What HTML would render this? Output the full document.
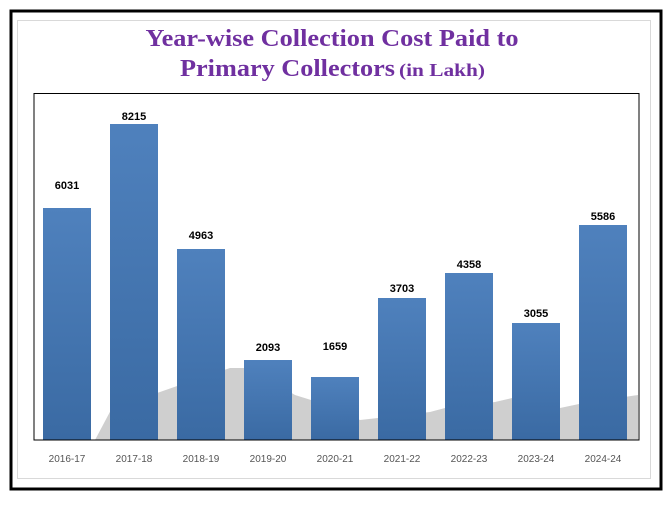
<!DOCTYPE html>
<html><head><meta charset="utf-8"><style>body{margin:0;background:#fff}</style></head><body>
<svg width="669" height="502" xmlns="http://www.w3.org/2000/svg" font-family="Liberation Sans, sans-serif">
<defs><linearGradient id="g" x1="0" y1="0" x2="0" y2="1"><stop offset="0" stop-color="#4f81bd"/><stop offset="1" stop-color="#3a6aa3"/></linearGradient></defs>
<rect x="11" y="11" width="650" height="478" fill="#fff" stroke="#000" stroke-width="3"/>
<rect x="17.5" y="20.5" width="633" height="458" fill="none" stroke="#d9d9d9" stroke-width="1"/>
<text x="332" y="46" text-anchor="middle" font-family="Liberation Serif, serif" font-weight="bold" font-size="24" fill="#7030a0" textLength="373" lengthAdjust="spacingAndGlyphs">Year-wise  Collection Cost Paid to</text>
<text x="180" y="76" font-family="Liberation Serif, serif" font-weight="bold" font-size="24" fill="#7030a0" textLength="215" lengthAdjust="spacingAndGlyphs">Primary Collectors</text>
<text x="399" y="76" font-family="Liberation Serif, serif" font-weight="bold" font-size="18" fill="#7030a0" textLength="86" lengthAdjust="spacingAndGlyphs">(in Lakh)</text>
<rect x="34" y="93.5" width="605" height="346.5" fill="#fff" stroke="#000" stroke-width="1"/>
<path d="M95 440 L112 408 L160 392 L180 385 L230 368 L250 368 L295 395 L311 400 L360 420 L378 418 L430 412 L445 408 L495 402 L512 398 L560 408 L579 404 L638 395 L638 440 Z" fill="#cfcfcf"/>
<g fill="url(#g)">
<rect x="43" y="208" width="48" height="232"/>
<rect x="110" y="124" width="48" height="316"/>
<rect x="177" y="249" width="48" height="191"/>
<rect x="244" y="360" width="48" height="80"/>
<rect x="311" y="377" width="48" height="63"/>
<rect x="378" y="298" width="48" height="142"/>
<rect x="445" y="273" width="48" height="167"/>
<rect x="512" y="323" width="48" height="117"/>
<rect x="579" y="225" width="48" height="215"/>
</g>
<line x1="34" y1="440" x2="639" y2="440" stroke="#000"/>
<g font-size="11" font-weight="bold" text-anchor="middle" fill="#000">
<text x="67" y="189">6031</text><text x="134" y="120">8215</text><text x="201" y="239">4963</text>
<text x="268" y="351">2093</text><text x="335" y="350">1659</text><text x="402" y="292">3703</text>
<text x="469" y="268">4358</text><text x="536" y="317">3055</text><text x="603" y="220">5586</text>
</g>
<g font-size="10" text-anchor="middle" fill="#555">
<text x="67" y="462">2016-17</text><text x="134" y="462">2017-18</text><text x="201" y="462">2018-19</text>
<text x="268" y="462">2019-20</text><text x="335" y="462">2020-21</text><text x="402" y="462">2021-22</text>
<text x="469" y="462">2022-23</text><text x="536" y="462">2023-24</text><text x="603" y="462">2024-24</text>
</g>
</svg>
</body></html>
